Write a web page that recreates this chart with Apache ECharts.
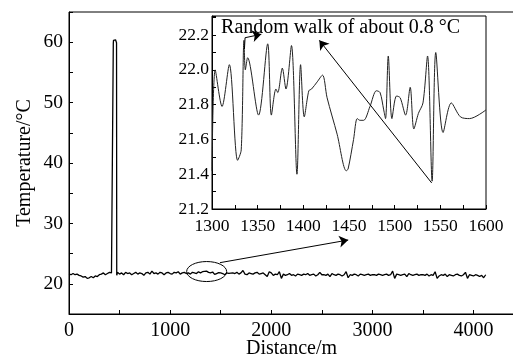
<!DOCTYPE html>
<html>
<head>
<meta charset="utf-8">
<script src="https://cdn.jsdelivr.net/npm/echarts@6/dist/echarts.min.js"></script>
<style>
html, body { margin: 0; padding: 0; background: #fff; }
#main { width: 513px; height: 358px; }
</style>
</head>
<body>
<div id="main"></div>
<script>
// whole fibre trace, one reading every 20 m from 0 m
var mainStep = 20;
var mainTemps = [
    21.6, 21.5, 21.7, 21.5, 21.6, 21.4,
    21.3, 21.1, 21.2, 20.9, 21.0, 21.2, 21.0, 21.3, 21.2, 21.5,
    21.6, 21.8, 21.5, 21.7, 21.9, 21.8,
    60.3, 60.4,
    21.9, 21.6, 21.8, 21.5, 21.9, 21.7, 21.8, 21.5, 21.7, 21.9, 21.6, 21.8, 21.7, 21.4,
    21.8, 21.9, 21.6, 22.1, 21.7, 21.8, 21.6, 21.9, 21.8, 21.5, 21.8, 21.9, 21.7, 21.6,
    21.9, 21.8, 22.0, 21.6, 21.8, 21.9, 21.7, 21.8, 21.6, 21.9, 21.8, 21.7, 22.0, 21.8,
    22.0, 22.05, 22.1, 21.9, 21.8, 21.95, 21.55, 21.7, 21.85, 21.8, 21.7, 21.5, 21.8, 21.72, 21.77,
    21.8, 21.7, 21.9, 21.6, 21.8, 22.2, 21.6, 21.5, 21.8, 21.7, 21.6, 21.8, 21.9, 21.6, 21.7,
    21.8, 21.5, 21.2, 22.0, 21.8,
    21.4, 21.6, 21.5, 22.0, 20.9, 21.6, 21.4, 21.5, 21.7, 21.4, 21.5, 21.3, 21.6, 21.5, 21.4,
    21.6, 21.5, 21.7, 21.4, 21.5, 21.6, 21.3, 21.5, 21.9, 21.5,
    21.5, 21.4, 21.6, 21.2, 21.7, 21.5, 21.4, 21.6, 21.5, 21.3, 21.5, 22.0, 21.0, 21.5, 21.4,
    21.6, 21.5, 21.3, 21.6, 21.5, 21.4, 21.5, 21.6, 21.4, 21.5,
    21.5, 21.4, 21.6, 21.5, 21.4, 21.5, 21.6, 21.4, 21.5, 22.1, 20.9, 21.6, 21.5, 21.4, 21.5,
    21.6, 21.2, 21.7, 21.5, 21.4, 21.5, 21.6, 21.4, 21.5, 21.5,
    21.4, 21.6, 21.3, 21.5, 21.4, 22.0, 20.9, 21.3, 21.5, 21.4, 21.6, 21.2, 21.5, 21.4, 21.3,
    21.5, 21.6, 21.4, 21.3, 21.5, 21.9, 20.9, 21.5, 21.4, 21.3, 21.5, 21.4, 21.2, 21.4, 21.0, 21.5
];
// edges of the hot spot
var spikeDist = [436, 438, 470, 472];
var spikeTemp = [21.5, 59.8, 59.9, 21.4];

// zoomed section 1300-1600 m
var insetDist = [1300, 1303.5, 1311, 1319, 1328, 1332, 1335, 1336.5, 1339, 1351, 1361, 1365, 1370, 1372,
    1377, 1381, 1387, 1393, 1397, 1401, 1406, 1409, 1415, 1421, 1426, 1437, 1447, 1449, 1455, 1459,
    1462, 1466, 1473, 1480, 1484, 1488, 1490, 1493, 1497, 1502, 1506, 1512, 1517, 1521, 1526, 1531,
    1536, 1541, 1545, 1553, 1562, 1572, 1582, 1600];
var insetTemp = [21.42, 22.0, 21.79, 22.03, 21.48, 21.54, 22.17, 22.0, 22.07, 21.74, 22.15, 21.74, 21.89, 21.87,
    22.01, 21.89, 22.14, 21.40, 22.03, 21.73, 21.88, 21.89, 21.93, 21.97, 21.84, 21.63, 21.42, 21.43, 21.6, 21.72,
    21.71, 21.71, 21.79, 21.88, 21.87, 21.77, 21.72, 22.08, 21.72, 21.85, 21.84, 21.74, 21.90, 21.66, 21.75, 21.81,
    22.08, 21.36, 22.10, 21.64, 21.81, 21.73, 21.72, 21.77];

var noteText = 'Random walk of about 0.8 °C';

var mainData = [];
for (var i = 0; i < mainTemps.length; i++) {
    mainData.push([i * mainStep, mainTemps[i]]);
}
for (var j = 0; j < spikeDist.length; j++) {
    mainData.push([spikeDist[j], spikeTemp[j]]);
}
mainData.sort(function(a, b) { return a[0] - b[0]; });

var insetData = insetDist.map(function(d, k) { return [d, insetTemp[k]]; });

var serif = 'Liberation Serif';
var black = '#000';

function axisBase(extra) {
    var o = {
        type: 'value',
        splitLine: { show: false },
        axisLine: { show: true, lineStyle: { color: black, width: 1 } },
        axisTick: { show: true, inside: true, length: 4, lineStyle: { color: black } },
        nameMoveOverlap: false
    };
    for (var key in extra) o[key] = extra[key];
    return o;
}

var myChart = echarts.init(document.getElementById('main'));

var option = {
    backgroundColor: '#fff',
    animation: false,
    grid: [{
        left: 69, top: 12, right: -1, bottom: 44,
        show: true, borderColor: black, borderWidth: 1,
        outerBoundsMode: 'none'
    }, {
        left: 212, top: 16, right: 27, bottom: 149,
        show: true, borderColor: black, borderWidth: 1, backgroundColor: '#fff',
        outerBoundsMode: 'none'
    }],
    xAxis: [axisBase({
        gridIndex: 0, min: 0, max: 4400, interval: 500,
        axisLabel: {
            color: black, fontFamily: serif, fontSize: 20, margin: 7,
            formatter: function(v) { return (v % 1000 === 0) ? String(v) : ''; }
        },
        name: 'Distance/m', nameLocation: 'middle', nameGap: 25,
        nameTextStyle: { color: black, fontFamily: serif, fontSize: 20 }
    }), axisBase({
        gridIndex: 1, min: 1300, max: 1600, interval: 25,
        axisLabel: {
            color: black, fontFamily: serif, fontSize: 17.5, margin: 8,
            formatter: function(v) { return (v % 50 === 0) ? String(v) : ''; }
        }
    })],
    yAxis: [axisBase({
        gridIndex: 0, min: 15, max: 65, interval: 5,
        axisLabel: {
            color: black, fontFamily: serif, fontSize: 19.5, margin: 6,
            formatter: function(v) { return (v % 10 === 0) ? String(v) : ''; }
        },
        name: 'Temperature/°C', nameLocation: 'middle', nameGap: 34,
        nameTextStyle: { color: black, fontFamily: serif, fontSize: 20 }
    }), axisBase({
        gridIndex: 1, min: 21.2, max: 22.31, interval: 0.1,
        axisLabel: {
            color: black, fontFamily: serif, fontSize: 17.5, margin: 3,
            formatter: function(v) {
                var r = Math.round(v * 10);
                if (Math.abs(v * 10 - r) > 1e-6 || r % 2 !== 0) return '';
                return (r / 10).toFixed(1);
            }
        }
    })],
    series: [{
        type: 'line',
        xAxisIndex: 0, yAxisIndex: 0,
        data: mainData,
        showSymbol: false,
        lineStyle: { color: black, width: 1.3 },
        z: 3
    }, {
        type: 'line',
        xAxisIndex: 1, yAxisIndex: 1,
        data: insetData,
        showSymbol: false,
        smooth: 0.3,
        lineStyle: { color: '#222', width: 1 },
        z: 3
    }, {
        // ellipse -> inset arrow
        type: 'lines',
        coordinateSystem: 'cartesian2d',
        xAxisIndex: 0, yAxisIndex: 0,
        symbol: ['none', 'arrow'],
        symbolSize: 9,
        lineStyle: { color: black, width: 1, opacity: 1 },
        data: [{ coords: [[1493, 23.5], [2761, 27.25]] }],
        z: 4
    }, {
        // arrows inside the inset
        type: 'lines',
        coordinateSystem: 'cartesian2d',
        xAxisIndex: 1, yAxisIndex: 1,
        symbol: ['none', 'arrow'],
        symbolSize: 9,
        lineStyle: { color: black, width: 1, opacity: 1 },
        data: [
            { coords: [[1540.5, 21.35], [1417.5, 22.17]] },
            { coords: [[1335.5, 22.12], [1336.2, 22.185]], symbol: ['none', 'none'] },
            { coords: [[1336.2, 22.185], [1354, 22.205]] }
        ],
        z: 4
    }]
};

myChart.setOption(option);

// annotations placed from data coordinates
var ellC = myChart.convertToPixel({ gridIndex: 0 }, [1361, 22.03]);
var noteP = myChart.convertToPixel({ gridIndex: 1 }, [1309.9, 22.243]);

myChart.setOption({
    graphic: [{
        type: 'ellipse',
        shape: { cx: ellC[0], cy: ellC[1], rx: 20, ry: 10 },
        style: { fill: 'none', stroke: black, lineWidth: 1 },
        z: 10
    }, {
        type: 'text',
        x: noteP[0], y: noteP[1],
        style: {
            text: noteText,
            fill: black,
            font: '20px "Liberation Serif"',
            textAlign: 'left',
            textVerticalAlign: 'middle'
        },
        z: 10
    }]
});
</script>
</body>
</html>
